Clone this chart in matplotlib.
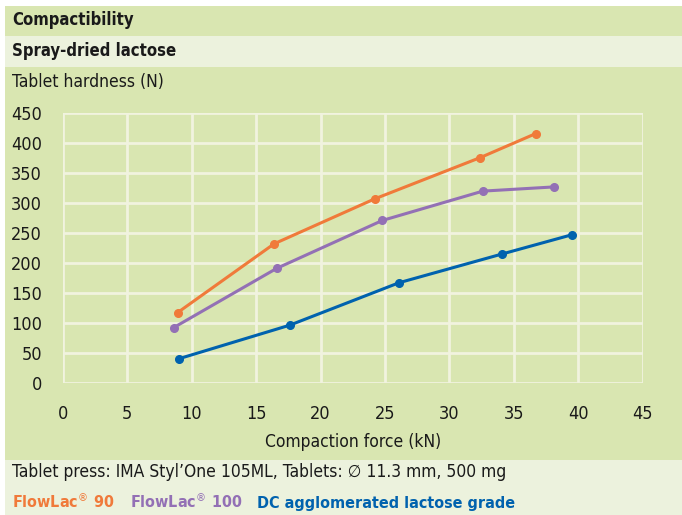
import matplotlib.pyplot as plt
from matplotlib.patches import Rectangle

# data
force_90 = [8.9, 16.4, 24.2, 32.4, 36.7]
hard_90 = [117, 232, 307, 376, 416]
force_100 = [8.6, 16.6, 24.8, 32.6, 38.1]
hard_100 = [92, 191, 271, 320, 327]
force_dc = [9.0, 17.6, 26.1, 34.1, 39.5]
hard_dc = [40, 96, 167, 215, 247]

x_ticks = [0, 5, 10, 15, 20, 25, 30, 35, 40, 45]
y_ticks = [0, 50, 100, 150, 200, 250, 300, 350, 400, 450]

dark = '#d9e6b1'
light = '#ecf2dd'
grid_col = '#f1f3df'
orange = '#f07a3a'
purple = '#9370b5'
blue = '#0062ae'

plt.rcParams['font.family'] = 'DejaVu Sans'
plt.rcParams['font.stretch'] = 'condensed'

W, H = 682, 515
fig = plt.figure(figsize=(W / 100, H / 100), dpi=100)
fig.patch.set_facecolor('white')

def band(y0, y1, color):
    # y in pixels from top
    fig.patches.append(Rectangle((5 / W, 1 - y1 / H), 1 - 5 / W, (y1 - y0) / H,
                                 transform=fig.transFigure, facecolor=color,
                                 edgecolor='none', zorder=-10))

band(6, 36, dark)
band(36, 67, light)
band(67, 460, dark)
band(460, 515, light)

def ftext(x, y, s, va='center', **kw):
    fig.text(x / W, 1 - y / H, s, va=va, ha='left', fontstretch='condensed', **kw)

ftext(12, 20, 'Compactibility', fontsize=12, fontweight='bold', color='#1a1a1a')
ftext(12, 51, 'Spray-dried lactose', fontsize=12, fontweight='bold', color='#1a1a1a')
ftext(12, 82, 'Tablet hardness (N)', fontsize=12.5, color='#1a1a1a')

ax = fig.add_axes([62.9 / W, 1 - 382.7 / H, 579.6 / W, 269.4 / H])
ax.patch.set_alpha(0)
ax.set_xlim(0, 45)
ax.set_ylim(0, 450)
ax.set_xticks(x_ticks)
ax.set_yticks(y_ticks)
ax.grid(True, color=grid_col, linewidth=2.0)
ax.set_axisbelow(True)
for s in ax.spines.values():
    s.set_visible(False)
ax.tick_params(length=0, labelsize=13, colors='#1a1a1a')
ax.tick_params(axis='y', pad=15)
ax.tick_params(axis='x', pad=16)
ax.set_xlabel('Compaction force (kN)', fontsize=12.5, color='#1a1a1a', labelpad=7)

for fx, hy, c in [(force_90, hard_90, orange), (force_100, hard_100, purple),
                  (force_dc, hard_dc, blue)]:
    ax.plot(fx, hy, color=c, linewidth=2.2, marker='o', markersize=5.5, clip_on=False)

ftext(12, 472, 'Tablet press: IMA Styl\u2019One 105ML, Tablets: \u2205 11.3 mm, 500 mg',
      fontsize=12.5, color='#1a1a1a')
ftext(12, 508, 'FlowLac$^{\u00ae}$ 90', va='baseline', fontsize=11.5, fontweight='bold', color=orange)
ftext(130, 508, 'FlowLac$^{\u00ae}$ 100', va='baseline', fontsize=11.5, fontweight='bold', color=purple)
ftext(257, 508, 'DC agglomerated lactose grade', va='baseline', fontsize=11.5, fontweight='bold', color=blue)

fig.savefig('out.png', dpi=100)
